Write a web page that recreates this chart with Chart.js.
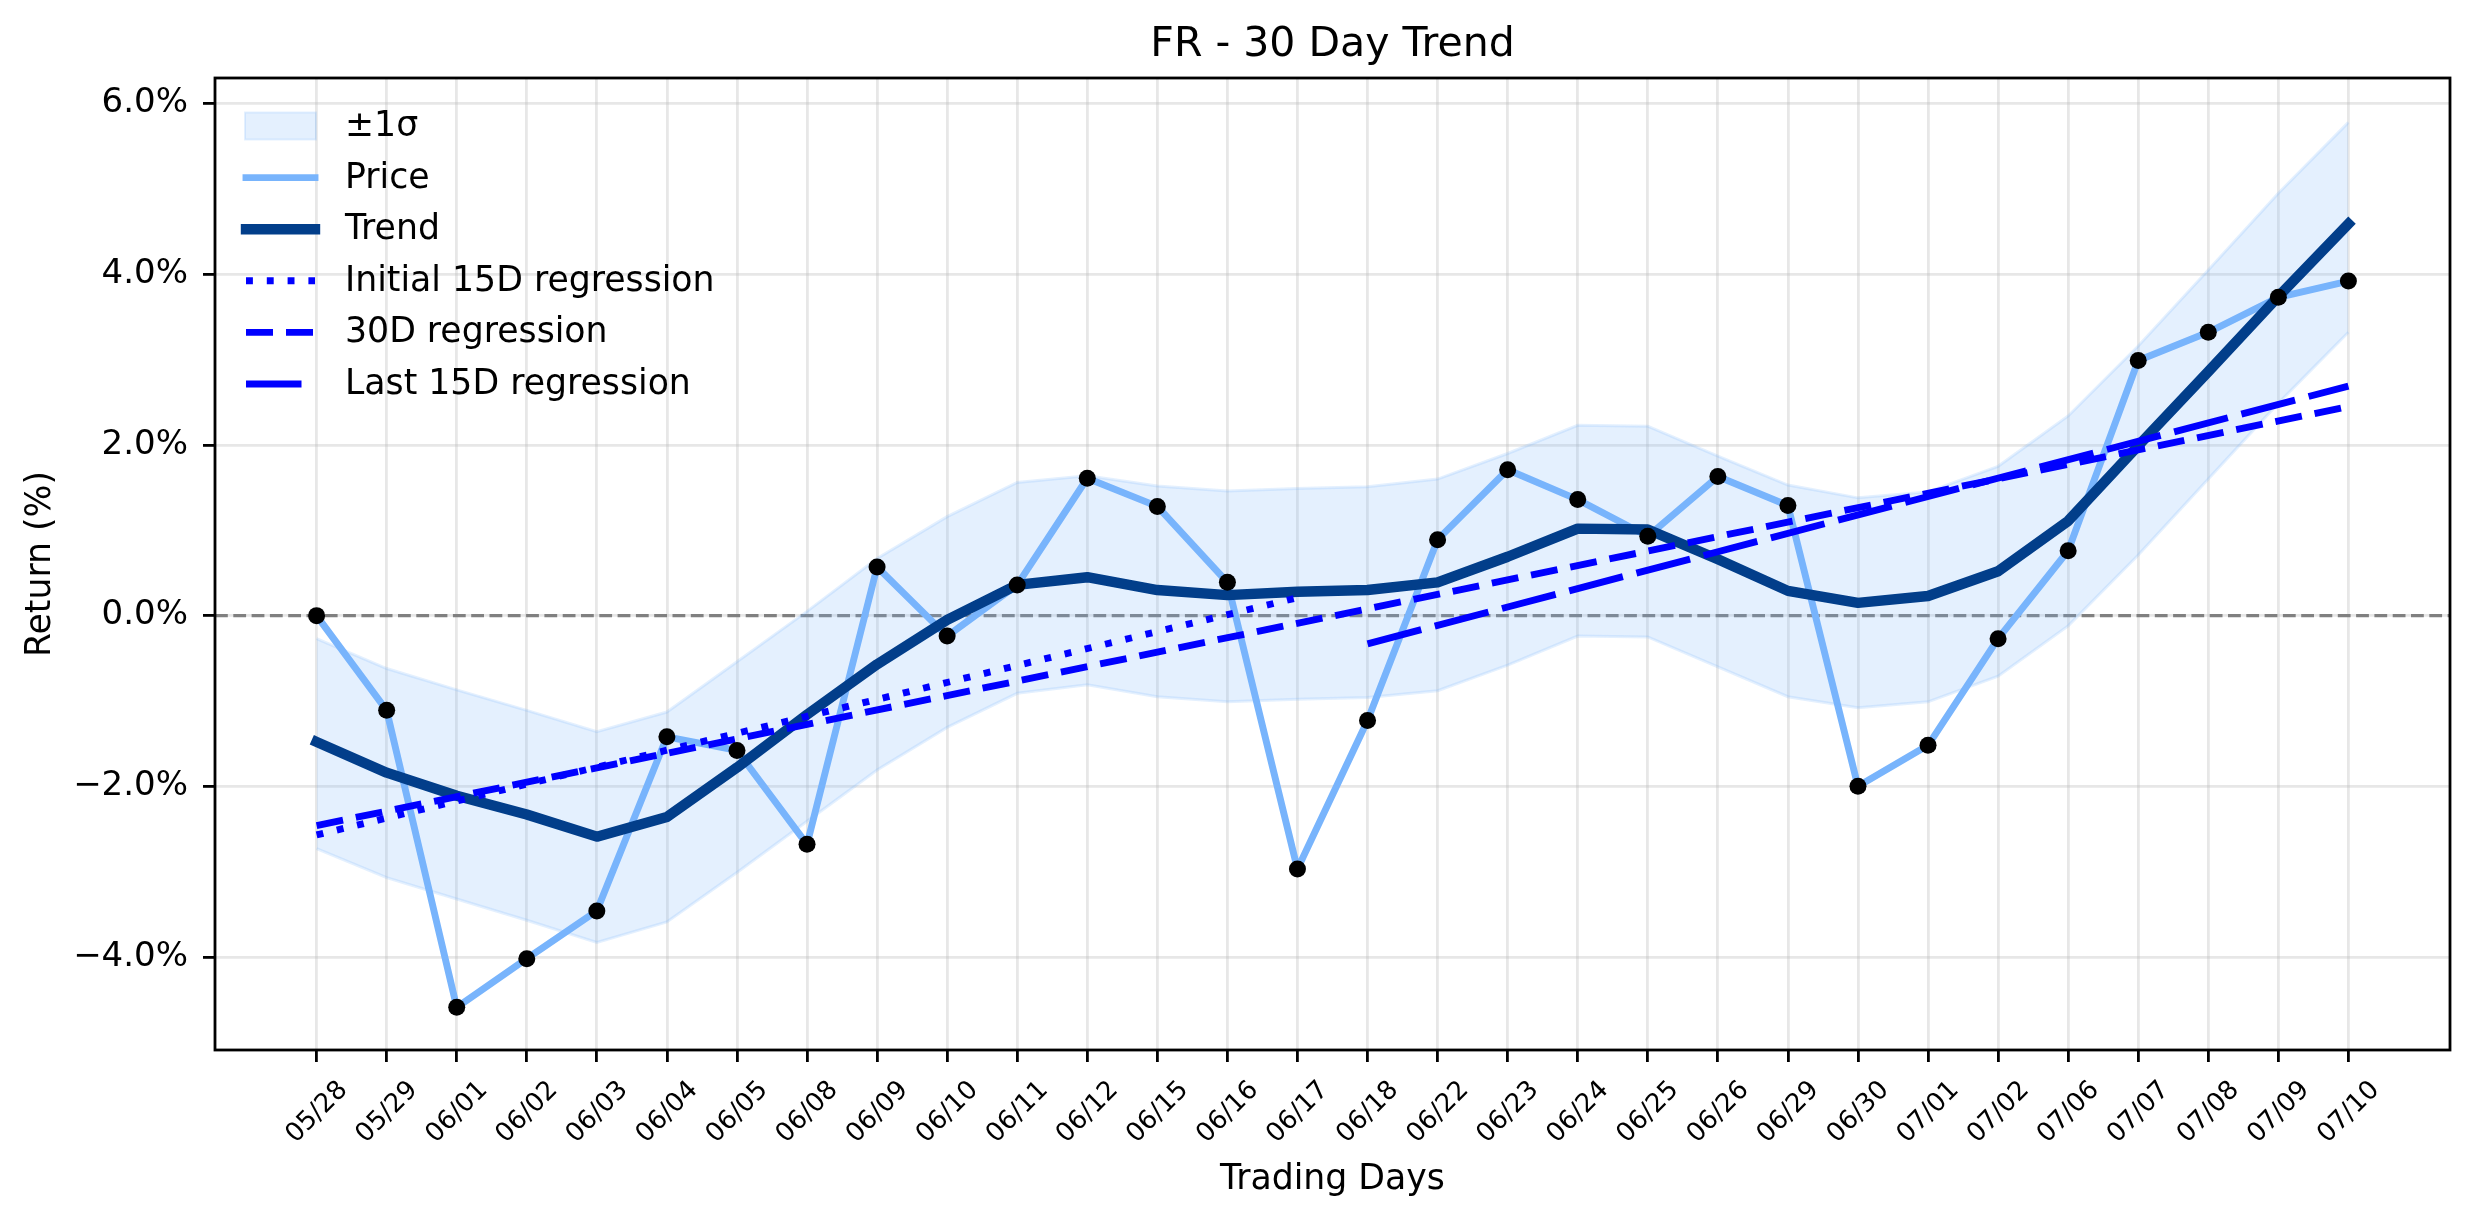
<!DOCTYPE html>
<html>
<head>
<meta charset="utf-8">
<title>FR - 30 Day Trend</title>
<script src="https://cdn.jsdelivr.net/npm/chart.js@4.4.1/dist/chart.umd.min.js"></script>
<style>
  html, body { margin: 0; padding: 0; background: #fff; }
  canvas { display: block; }
</style>
</head>
<body>
<canvas id="trendChart" width="2474" height="1224"></canvas>
<script>
// values, in %
const days = ['05/28', '05/29', '06/01', '06/02', '06/03', '06/04', '06/05', '06/08', '06/09', '06/10',
    '06/11', '06/12', '06/15', '06/16', '06/17', '06/18', '06/22', '06/23', '06/24', '06/25',
    '06/26', '06/29', '06/30', '07/01', '07/02', '07/06', '07/07', '07/08', '07/09', '07/10'];
const price = [0.00, -1.11, -4.59, -4.02, -3.46, -1.42, -1.58, -2.68, 0.57, -0.24,
    0.36, 1.61, 1.28, 0.39, -2.97, -1.23, 0.89, 1.71, 1.36, 0.93,
    1.63, 1.29, -2.00, -1.52, -0.27, 0.76, 2.99, 3.32, 3.73, 3.92];
const trend = [-1.48, -1.84, -2.11, -2.33, -2.59, -2.36, -1.78, -1.16, -0.57, -0.05,
    0.36, 0.45, 0.30, 0.24, 0.28, 0.30, 0.39, 0.69, 1.02, 1.01,
    0.66, 0.29, 0.15, 0.23, 0.52, 1.11, 1.99, 2.86, 3.74, 4.59];
const sigmaUpper = [-0.27, -0.62, -0.87, -1.11, -1.36, -1.13, -0.54, 0.05, 0.67, 1.16,
    1.56, 1.64, 1.52, 1.46, 1.49, 1.51, 1.60, 1.90, 2.23, 2.22,
    1.87, 1.53, 1.38, 1.45, 1.75, 2.34, 3.16, 4.05, 4.95, 5.78];
const sigmaLower = [-2.73, -3.07, -3.32, -3.57, -3.83, -3.59, -3.01, -2.41, -1.81, -1.31,
    -0.91, -0.81, -0.95, -1.01, -0.98, -0.96, -0.88, -0.58, -0.24, -0.25,
    -0.60, -0.95, -1.08, -1.01, -0.71, -0.12, 0.71, 1.60, 2.49, 3.32];

// regression lines: day index -> value
const initialRegX = [0, 14];
const initialRegY = [-2.57, 0.21];
const fullRegX = [0, 29];
const fullRegY = [-2.46, 2.45];
const lastRegX = [15, 29];
const lastRegY = [-0.33, 2.69];

const yTicks = [-4, -2, 0, 2, 4, 6];
const legendOrder = ['±1σ', 'Price', 'Trend', 'Initial 15D regression', '30D regression', 'Last 15D regression'];

const priceColor = '#78b4fc';
const trendColor = '#023e8a';
const regColor = '#0000ff';
const bandFill = 'rgba(120, 180, 251, 0.2)';
const gridColor = 'rgba(176, 176, 176, 0.3)';

function dayPoints(ys) {
    return ys.map((v, i) => ({ x: i, y: v }));
}

function linePoints(xs, ys) {
    return xs.map((x, i) => ({ x: x, y: ys[i] }));
}

function pctLabel(v) {
    return (v < 0 ? '\u2212' : '') + Math.abs(v).toFixed(1) + '%';
}

// dashed gray line at 0 (axhline)
const zeroLine = {
    id: 'zeroLine',
    beforeDatasetsDraw(chart) {
        let ctx = chart.ctx, a = chart.chartArea;
        let y = chart.scales.y.getPixelForValue(0);
        ctx.save();
        ctx.strokeStyle = '#808080';
        ctx.lineWidth = 3.4;
        ctx.setLineDash([12.8, 5.5]);
        ctx.beginPath();
        ctx.moveTo(a.left, y);
        ctx.lineTo(a.right, y);
        ctx.stroke();
        ctx.restore();
    }
};

// box round the plot, like the matplotlib spines
const frame = {
    id: 'frame',
    afterDatasetsDraw(chart) {
        let ctx = chart.ctx, a = chart.chartArea;
        ctx.save();
        ctx.strokeStyle = '#000';
        ctx.lineWidth = 2.8;
        ctx.strokeRect(a.left, a.top, a.right - a.left, a.bottom - a.top);
        ctx.restore();
    }
};

// legend inside the plot, top left, no frame
const innerLegend = {
    id: 'innerLegend',
    afterDatasetsDraw(chart) {
        let ctx = chart.ctx, a = chart.chartArea;
        let x0 = a.left + 31, x1 = a.left + 100, tx = a.left + 130;
        let y = a.top + 48;
        ctx.save();
        ctx.font = '34.7px "DejaVu Sans"';
        ctx.textBaseline = 'middle';
        legendOrder.forEach(label => {
            let ds = chart.data.datasets.find(d => d.label === label);
            if (!ds) return;
            if (ds.legendPatch) {
                ctx.fillStyle = ds.legendPatch;
                ctx.fillRect(x0 - 1, y - 13.5, x1 - x0 + 2, 27);
                ctx.strokeStyle = ds.borderColor;
                ctx.lineWidth = 2;
                ctx.strokeRect(x0 - 1, y - 13.5, x1 - x0 + 2, 27);
            } else {
                ctx.strokeStyle = ds.borderColor;
                ctx.lineWidth = ds.borderWidth;
                ctx.lineCap = ds.borderCapStyle || 'butt';
                ctx.setLineDash(ds.borderDash || []);
                ctx.beginPath();
                ctx.moveTo(x0, y);
                ctx.lineTo(x1, y);
                ctx.stroke();
                ctx.setLineDash([]);
            }
            ctx.fillStyle = '#000';
            ctx.fillText(label, tx, y + 1);
            y += 51.6;
        });
        ctx.restore();
    }
};

Chart.defaults.font.family = '"DejaVu Sans"';
Chart.defaults.color = '#000';

let ctx = document.getElementById('trendChart');

let chart = new Chart(ctx, {
    type: 'line',
    data: {
        datasets: [{
            label: 'points',
            data: dayPoints(price),
            showLine: false,
            pointRadius: 8.5,
            pointBackgroundColor: '#000',
            pointBorderWidth: 0,
            order: 0
        }, {
            label: 'Initial 15D regression',
            data: linePoints(initialRegX, initialRegY),
            borderColor: regColor,
            borderWidth: 6.9,
            borderDash: [6.9, 13.9],
            pointRadius: 0,
            order: 1
        }, {
            label: '30D regression',
            data: linePoints(fullRegX, fullRegY),
            borderColor: regColor,
            borderWidth: 6.9,
            borderDash: [27, 13],
            pointRadius: 0,
            order: 2
        }, {
            label: 'Last 15D regression',
            data: linePoints(lastRegX, lastRegY),
            borderColor: regColor,
            borderWidth: 6.9,
            borderDash: [55.5, 14],
            pointRadius: 0,
            order: 3
        }, {
            label: 'Trend',
            data: dayPoints(trend),
            borderColor: trendColor,
            borderWidth: 10.4,
            borderCapStyle: 'square',
            borderJoinStyle: 'round',
            pointRadius: 0,
            order: 4
        }, {
            label: 'Price',
            data: dayPoints(price),
            borderColor: priceColor,
            borderWidth: 6.9,
            borderCapStyle: 'square',
            borderJoinStyle: 'round',
            pointRadius: 0,
            order: 5
        }, {
            label: '±1σ',
            data: dayPoints(sigmaUpper),
            borderColor: bandFill,
            borderWidth: 3,
            legendPatch: bandFill,
            pointRadius: 0,
            fill: false,
            order: 6
        }, {
            label: 'sigma low',
            data: dayPoints(sigmaLower),
            borderColor: bandFill,
            borderWidth: 3,
            backgroundColor: bandFill,
            pointRadius: 0,
            fill: '-1',
            order: 7
        }]
    },
    options: {
        responsive: false,
        devicePixelRatio: 1,
        animation: false,
        layout: { padding: { left: 0, right: 24, top: 0, bottom: 0 } },
        elements: { line: { tension: 0 } },
        plugins: {
            legend: { display: false },
            tooltip: { enabled: false },
            title: {
                display: true,
                text: 'FR - 30 Day Trend',
                fullSize: false,
                color: '#000',
                font: { size: 41, weight: 'normal' },
                padding: { top: 21, bottom: 7.8 }
            }
        },
        scales: {
            x: {
                type: 'linear',
                min: -1.45,
                max: 30.45,
                afterBuildTicks: scale => {
                    scale.ticks = days.map((d, i) => ({ value: i }));
                },
                afterFit: scale => { scale.height = 174; },
                ticks: {
                    autoSkip: false,
                    minRotation: 45,
                    maxRotation: 45,
                    labelOffset: 27,
                    padding: 13,
                    font: { size: 26 },
                    callback: v => days[v]
                },
                grid: {
                    color: gridColor,
                    lineWidth: 2.8,
                    tickColor: '#000',
                    tickWidth: 2.8,
                    tickLength: 12
                },
                border: { display: false },
                title: {
                    display: true,
                    text: 'Trading Days',
                    font: { size: 34.7 },
                    padding: { top: 0, bottom: 23 }
                }
            },
            y: {
                min: -5.09,
                max: 6.30,
                afterBuildTicks: scale => {
                    scale.ticks = yTicks.map(v => ({ value: v }));
                },
                afterFit: scale => { scale.width = 215; },
                ticks: {
                    padding: 15,
                    font: { size: 34 },
                    callback: v => pctLabel(v)
                },
                grid: {
                    color: gridColor,
                    lineWidth: 2.8,
                    tickColor: '#000',
                    tickWidth: 2.8,
                    tickLength: 12
                },
                border: { display: false },
                title: {
                    display: true,
                    text: 'Return (%)',
                    font: { size: 34.7 },
                    padding: { top: 20, bottom: 0 }
                }
            }
        }
    },
    plugins: [zeroLine, frame, innerLegend]
});
</script>
</body>
</html>
